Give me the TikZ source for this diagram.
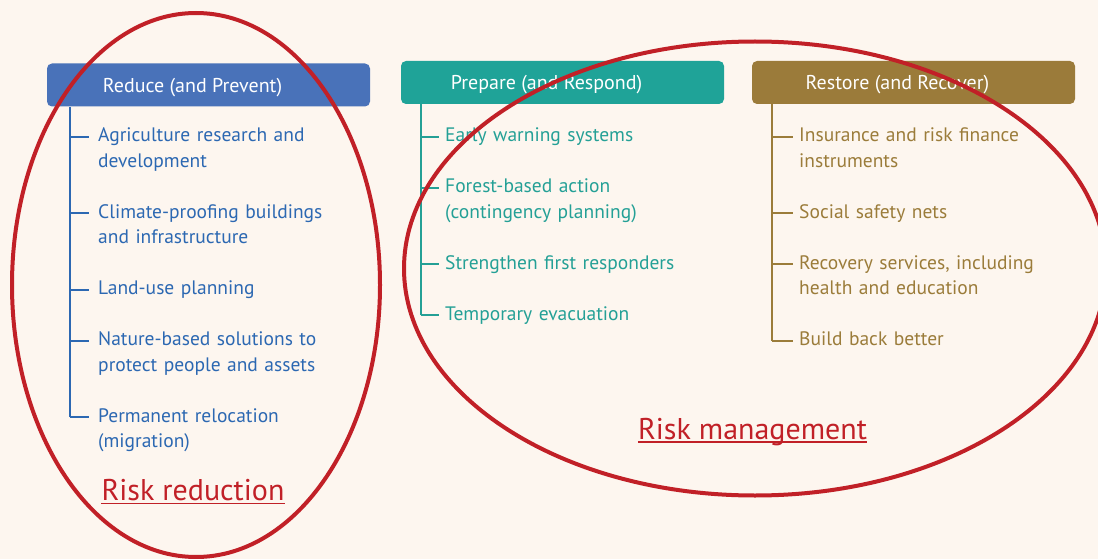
\documentclass[tikz,border=0pt]{standalone}
\usepackage{fontspec}
\setmainfont{PT Sans}
\usetikzlibrary{positioning}
\definecolor{bgcream}{RGB}{253,246,239}
\definecolor{rdblue}{RGB}{44,104,178}
\definecolor{rdbluehd}{RGB}{73,114,185}
\definecolor{prteal}{RGB}{36,160,150}
\definecolor{prtealhd}{RGB}{31,163,152}
\definecolor{rsbrown}{RGB}{155,124,58}
\definecolor{rsbrownhd}{RGB}{155,123,58}
\definecolor{riskred}{RGB}{193,32,39}

\begin{document}
\begin{tikzpicture}[x=1pt, y=-1pt,
    hdr/.style={rectangle, rounded corners=5pt, minimum width=323pt, minimum height=43pt,
                inner sep=0pt, text=white, font=\fontsize{20}{24}\selectfont,
                text height=16pt, text depth=1pt},
    item/.style={anchor=base west, inner sep=0pt, align=left, text width=270pt,
                 font=\fontsize{19.5}{25.45}\selectfont},
    tree/.style={line width=2pt},
    bigoval/.style={draw=riskred, line width=4pt},
    risklbl/.style={anchor=base, inner sep=0pt, text=riskred,
                    font=\fontsize{30}{34}\selectfont}
  ]
    \clip (0,0) rectangle (1098,559);
    \fill[bgcream] (0,0) rectangle (1098,559);

    % Headers
    \node[hdr, fill=rdbluehd] (reduce) at (208.5,85) {Reduce (and Prevent)\kern32pt};
    \node[hdr, fill=prtealhd] (prepare) at (562.5,82.5) {Prepare (and Respond)\kern32pt};
    \node[hdr, fill=rsbrownhd] (restore) at (913.5,82.5) {Restore (and Recover)\kern32pt};

    % Reduce items
    \node[item, text=rdblue] (agri) at (98,142) {Agriculture research and\\development};
    \node[item, text=rdblue] (climate) at (98,218.4) {Climate-proofing buildings\\and infrastructure};
    \node[item, text=rdblue] (landuse) at (98,294.7) {Land-use planning};
    \node[item, text=rdblue] (nature) at (98,345.6) {Nature-based solutions to\\protect people and assets};
    \node[item, text=rdblue] (reloc) at (98,422) {Permanent relocation\\(migration)};

    % Prepare items
    \node[item, text=prteal] (warning) at (445,142) {Early warning systems};
    \node[item, text=prteal] (forest) at (445,192.9) {Forest-based action\\(contingency planning)};
    \node[item, text=prteal] (responders) at (445,269.3) {Strengthen first responders};
    \node[item, text=prteal] (evac) at (445,320.2) {Temporary evacuation};

    % Restore items
    \node[item, text=rsbrown] (insure) at (799,142) {Insurance and risk finance\\instruments};
    \node[item, text=rsbrown] (safety) at (799,218.4) {Social safety nets};
    \node[item, text=rsbrown] (recovery) at (799,269.3) {Recovery services, including\\health and education};
    \node[item, text=rsbrown] (bbb) at (799,345.6) {Build back better};

    % Tree lines
    \foreach \n in {agri,climate,landuse,nature,reloc}
      \draw[tree, rdblue] ([shift={(-28,-5)}]\n.base west) -- ++(19,0);
    \draw[tree, rdblue] ([shift={(-28,-5)}]reloc.base west) coordinate (rdend) -- (rdend |- reduce.south);

    \foreach \n in {warning,forest,responders,evac}
      \draw[tree, prteal] ([shift={(-24,-5)}]\n.base west) -- ++(18,0);
    \draw[tree, prteal] ([shift={(-24,-5)}]evac.base west) coordinate (prend) -- (prend |- prepare.south);

    \foreach \n in {insure,safety,recovery,bbb}
      \draw[tree, rsbrown] ([shift={(-27,-5)}]\n.base west) -- ++(21,0);
    \draw[tree, rsbrown] ([shift={(-27,-5)}]bbb.base west) coordinate (rsend) -- (rsend |- restore.south);

    % Risk ovals
    \draw[bigoval] (196,285) ellipse [x radius=184pt, y radius=272pt];
    \draw[bigoval] (755,268.5) ellipse [x radius=351pt, y radius=227pt];

    \node[risklbl] (rred) at (193,500.7) {Risk reduction};
    \draw[riskred, line width=1.5pt] ([yshift=-3pt]rred.base west) -- ([yshift=-3pt]rred.base east);
    \node[risklbl] (rman) at (752.5,439) {Risk management};
    \draw[riskred, line width=1.5pt] ([yshift=-3pt]rman.base west) -- ([yshift=-3pt]rman.base east);
\end{tikzpicture}
\end{document}
